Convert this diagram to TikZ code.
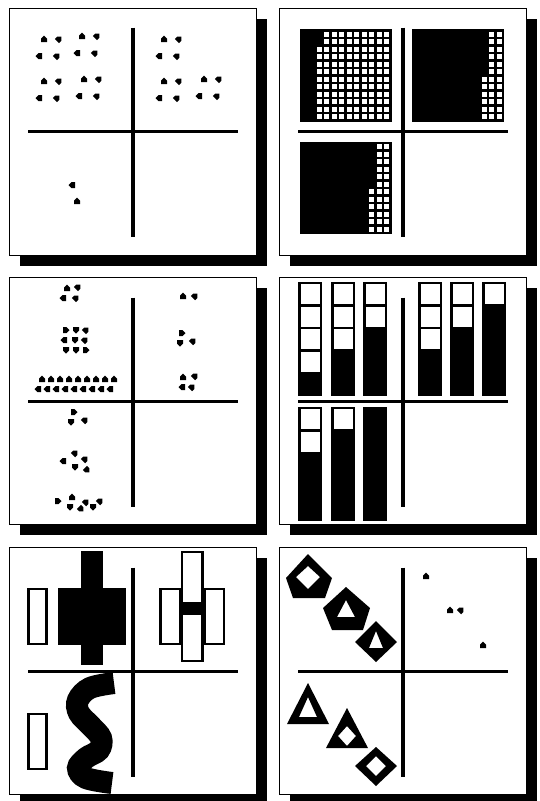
\documentclass[tikz,border=0pt]{standalone}
\usepackage{tikz}
\usetikzlibrary{shadows}
\tikzset{
  panel/.style={rectangle,draw=black,fill=white,line width=1.5pt,inner sep=0pt,
                minimum width=247pt,minimum height=247pt,
                drop shadow={shadow xshift=10pt,shadow yshift=-10pt,fill=black,opacity=1}},
  rule/.style={line width=3.5pt},
  hollow/.style={draw=black,fill=white,line width=2.5pt},
  holed/.style={fill=black,even odd rule},
  seed/.pic={\fill (-3,3)--(3,3)--(3,-0.5)--(0,-3.5)--(-3,-0.5)--cycle;}
}
% one level bar: x, top y, number of empty cells
\newcommand\levelbar[3]{%
  \fill (#1,#2) rectangle ++(24,114);
  \ifnum#3>0
    \foreach \k in {1,...,#3} \fill[white] (#1+2.5,{#2+2.2+22.6*(\k-1)}) rectangle ++(19,20);
  \fi}
% block of white cells: right centre x, top centre y, rows, columns
\newcommand\cellblock[4]{%
  \foreach \r in {1,...,#3} \foreach \c in {1,...,#4}
    \fill[white] ({#1-7.5*(\c-1)-2.6},{#2+7.5*(\r-1)-2.6}) rectangle ++(5.2,5.2);}
% cross in a panel given by its top left corner
\newcommand\panelcross[2]{%
  \draw[rule] (#1+19,#2+123.5)--(#1+229,#2+123.5);
  \draw[rule] (#1+124,#2+19.5)--(#1+124,#2+228.5);}

\begin{document}
\begin{tikzpicture}[x=1pt,y=-1pt]
  \useasboundingbox (0,0) rectangle (539,801);
  % frames
  \node[panel] (p1) at (133,132) {};
  \node[panel] (p2) at (403,132) {};
  \node[panel] (p3) at (133,401) {};
  \node[panel] (p4) at (403,401) {};
  \node[panel] (p5) at (133,671) {};
  \node[panel] (p6) at (403,671) {};

  % panel 1: counted seeds
  \panelcross{9}{8}
  \foreach \a/\b in {44/39,82/36,44/81,84/79,164/39,164/81,204/79}{
    \pic at (\a,\b) {seed};
    \pic[rotate=-45] at (\a+15,\b) {seed};
    \pic[rotate=90] at (\a-5,\b+17) {seed};
    \pic[rotate=-45] at (\a+13,\b+17) {seed};
  }
  \pic[rotate=90] at (72,185) {seed};
  \pic at (77,201) {seed};

  % panel 2: hundred squares
  \panelcross{279}{8}
  \fill (300,29) rectangle (392,122);
  \fill (412,29) rectangle (504,122);
  \fill (300,142) rectangle (392,234);
  \cellblock{386.7}{34.3}{2}{9}
  \cellblock{386.7}{49.3}{10}{10}
  \cellblock{499.3}{34.3}{6}{2}
  \cellblock{499.3}{79.3}{6}{3}
  \cellblock{386.7}{146.7}{6}{2}
  \cellblock{386.7}{191.7}{6}{3}

  % panel 3: grouped seeds
  \panelcross{9}{278}
  \foreach \x/\y/\r in {67/288/0,78/287/-45,63/298/90,76/298/-45,
      66/330/-90,76/330/180,86/330/-45,64/340/90,75/340/180,85/340/-45,
      66/350/180,76/350/180,86/350/-90,
      183/296/0,195/296/-45,182/333/-90,180/343/180,193/341/-45,
      183/377/0,195/376/-45,182/387/90,192/387/-45,
      74/412/-90,71/422/180,85/420/-45,
      75/453/-45,63/461/90,85/459/-45,75/467/180,87/470/-135,
      58/501/-90,72/497/0,70/507/180,81/509/-135,86/502/-45,93/507/180,100/501/-45}
    \pic[rotate=\r] at (\x,\y) {seed};
  \foreach \k in {0,...,8}{
    \pic at (42+9*\k,379) {seed};
    \pic[rotate=90] at (38+9*\k,389) {seed};
  }

  % panel 4: level bars
  \panelcross{279}{278}
  \levelbar{298}{282}{4}
  \levelbar{331}{282}{3}
  \levelbar{363}{282}{2}
  \levelbar{418}{282}{3}
  \levelbar{450}{282}{2}
  \levelbar{482}{282}{1}
  \levelbar{298}{407}{2}
  \levelbar{331}{407}{1}
  \levelbar{363}{407}{0}

  % panel 5: blocks and worm
  \panelcross{9}{548}
  \draw[hollow] (28.5,589) rectangle (46.5,644);
  \fill (81,551) rectangle (103,665);
  \fill (58,588) rectangle (126,645);
  \draw[hollow] (182,552) rectangle (202.5,603);
  \draw[hollow] (182,614) rectangle (202.5,661);
  \fill (181,603) rectangle (203.5,614);
  \draw[hollow] (160.5,589) rectangle (180,644);
  \draw[hollow] (204.5,589) rectangle (224,644);
  \draw[hollow] (28.5,714) rectangle (46.5,769);
  \draw[line width=22pt] plot[smooth,tension=0.6] coordinates
    {(114,683) (90,688) (78,700) (79,713) (91,726) (101,738) (99,750) (86,758) (78,768) (86,778) (112,783)};

  % panel 6: framed shapes
  \panelcross{279}{548}
  \fill[holed] (308,554)--(332,578)--(325,598)--(293,598)--(286,578)--cycle
               (308,566)--(320,577)--(308,589)--(296,577)--cycle;
  \fill[holed] (346,587)--(370,608)--(363,630)--(332,630)--(323,608)--cycle
               (346,600)--(355,617)--(337,617)--cycle;
  \fill[holed] (376,621)--(397,642)--(376,662)--(355,642)--cycle
               (376,631)--(383,648)--(369,648)--cycle;
  \fill[holed] (308,683)--(329,724)--(287,724)--cycle
               (308,697)--(317,717)--(299,717)--cycle;
  \fill[holed] (347,708)--(368,748)--(326,748)--cycle
               (347,726)--(356,736)--(347,746)--(338,736)--cycle;
  \fill[holed] (376,747)--(397,766)--(376,786)--(355,766)--cycle
               (376,756)--(386,766)--(376,776)--(366,766)--cycle;
  \pic at (426,576) {seed};
  \pic at (450,610) {seed};
  \pic[rotate=-45] at (461,610) {seed};
  \pic at (483,645) {seed};
\end{tikzpicture}
\end{document}
